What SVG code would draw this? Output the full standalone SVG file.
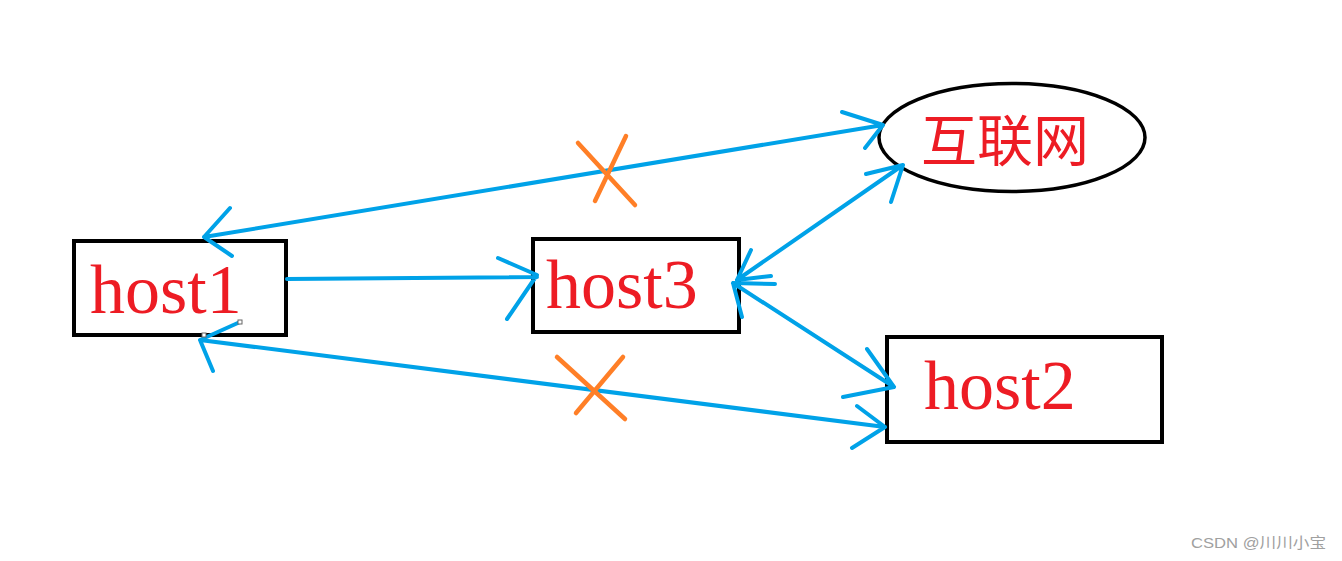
<svg xmlns="http://www.w3.org/2000/svg" width="1342" height="561" viewBox="0 0 1342 561">
<style>
.box{fill:#fff;stroke:#000;stroke-width:4}
.lbl{font-family:"Liberation Serif","Times New Roman",serif;font-size:70px;fill:#ed1c24}
.cjk{font-family:"Noto Sans CJK SC","Noto Sans CJK JP",sans-serif;font-size:56px;fill:#ed1c24}
.ln{fill:none;stroke:#00a2e8;stroke-width:4;stroke-linecap:round;stroke-linejoin:round}
.x{fill:none;stroke:#ff7f27;stroke-width:4.5;stroke-linecap:round}
.wm{font-family:"Liberation Sans",Arial,"Noto Sans CJK SC",sans-serif;font-size:15px;fill:#a0a0a0}
</style>
<rect width="1342" height="561" fill="#fff"/>
<g id="host1">
<rect class="box" x="74" y="241" width="212" height="94"/>
<text class="lbl" x="90" y="313">host1</text>
</g>
<g id="host3">
<rect class="box" x="533" y="239" width="206" height="93"/>
<text class="lbl" x="546" y="308">host3</text>
</g>
<g id="host2">
<rect class="box" x="887" y="337" width="275" height="105"/>
<text class="lbl" x="924" y="409">host2</text>
</g>
<g id="internet">
<ellipse cx="1012" cy="137.5" rx="133" ry="54" fill="#fff" stroke="#000" stroke-width="3.5"/>
<text class="cjk" x="921" y="161">互联网</text>
</g>
<g id="connectors">
<path class="ln" d="M204,237 L883,125 M230,208 L204,237 L232,256 M842,112 L883,125 L865,148"/>
<path class="ln" d="M287,279 L537,277 M498,258 L537,275 L507,319"/>
<path class="ln" d="M737,280 L903,165 M866,174 L903,165 L891,202 M751,250 L737,280 L771,276"/>
<path class="ln" d="M733,283 L894,387 M867,349 L894,387 L843,397 M775,284 L733,283 L742,317"/>
<path class="ln" d="M200,340 L885,427 M240,322 L200,340 L213,371 M857,406 L885,427 L852,448"/>
<rect x="202" y="333" width="4" height="4" fill="#fff" stroke="#666" stroke-width="1"/>
<rect x="238" y="320" width="4" height="4" fill="#fff" stroke="#666" stroke-width="1"/>
</g>
<g id="marks">
<path class="x" d="M578,143 L635,205 M626,136 L595,201"/>
<path class="x" d="M557,357 L625,419 M623,357 L576,413"/>
</g>
<text class="wm" x="1191" y="548" textLength="135" lengthAdjust="spacingAndGlyphs">CSDN @川川小宝</text>
</svg>
